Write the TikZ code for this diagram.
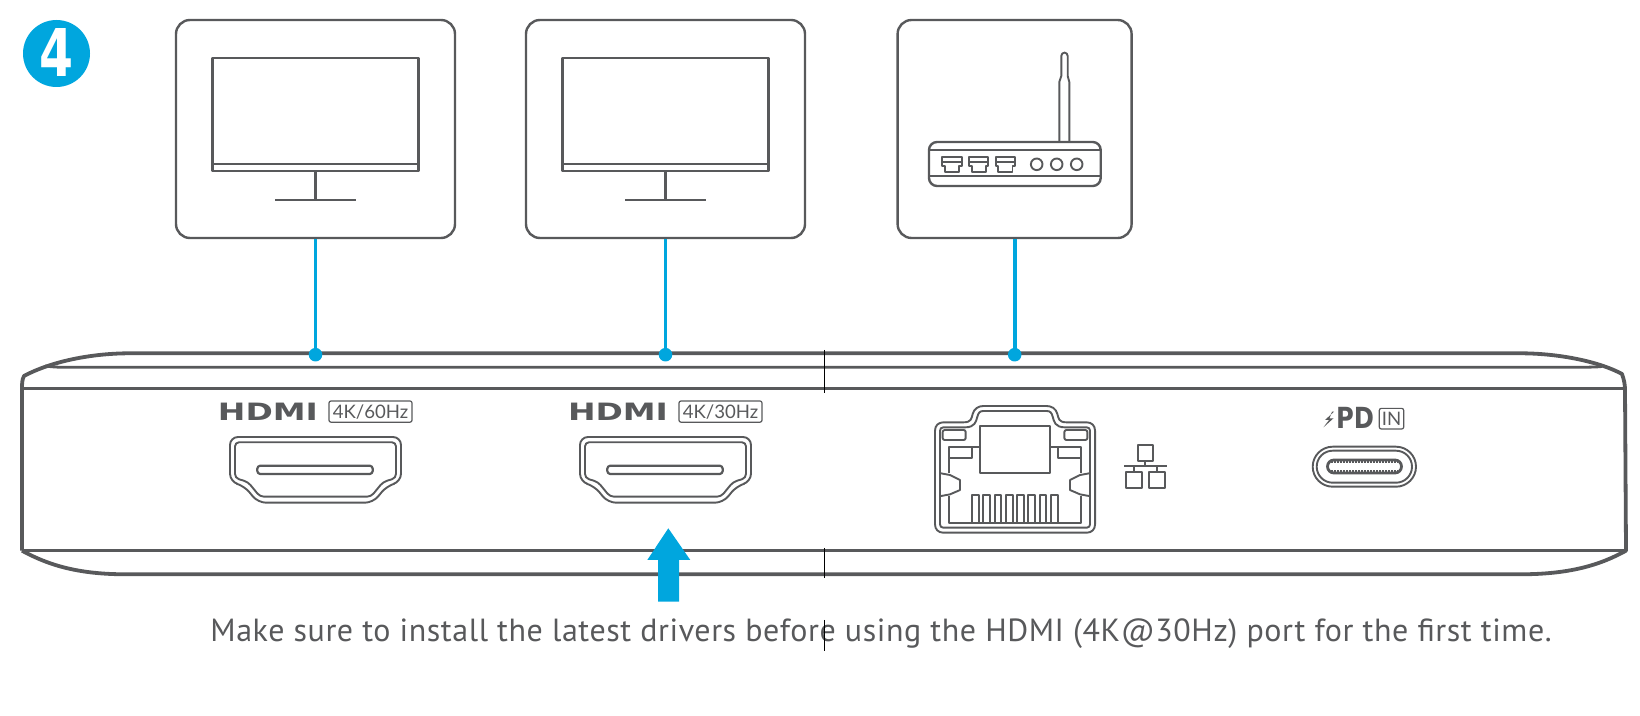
\documentclass[tikz,border=0pt]{standalone}
\usepackage{fontspec}
\setmainfont{PT Sans}
\newfontfamily\logofont{DejaVu Sans}
\newfontfamily\labfont{Lato}
\definecolor{ink}{HTML}{58595B}
\definecolor{cyanb}{HTML}{00A6DE}
\tikzset{
  px/.style={x=0.5pt,y=-0.5pt},
  thick line/.style={draw=ink,line width=1.4pt,line join=round},
  med line/.style={draw=ink,line width=1.2pt,line join=round},
  thin line/.style={draw=ink,line width=.95pt,line join=round},
  link/.style={draw=cyanb,line width=1.8pt},
  crease/.style={draw=black,line width=.45pt},
  dotnode/.style={circle,fill=cyanb,inner sep=0pt,minimum size=6.8pt},
  panel/.style={draw=ink,line width=1.2pt,rounded corners=7pt,inner sep=0pt,minimum height=109pt},
  logo/.style={inner sep=0pt,text=ink,font=\logofont\bfseries},
  speed/.style={draw=ink,line width=.6pt,rounded corners=1pt,inner sep=0pt,text=ink,font=\labfont\fontsize{9.3}{10}\selectfont,minimum width=41.5pt,minimum height=10.6pt},
}
\newcommand{\monitor}[1]{%
  \begin{scope}[shift={(#1,0)}]
    \draw[thick line] (212.5,58) rectangle (418.5,171);
    \draw[med line] (212,164) -- (419,164);
    \draw[thin line,line width=1.1pt] (315.5,171) -- (315.5,200);
    \draw[med line] (275,200) -- (356,200);
  \end{scope}}
\newcommand{\hdmiport}[1]{%
  \begin{scope}[shift={(#1,0)}]
    \draw[thin line,rounded corners=4pt] (230,437) -- (401,437) -- (401,481.7) -- (386.7,486) -- (373,502.7) -- (258,502.7) -- (244.3,486) -- (230,481.7) -- cycle;
    \draw[thin line,rounded corners=2pt] (235,442.3) -- (396,442.3) -- (396,478) -- (383,482) -- (371,496.7) -- (260,496.7) -- (248,482) -- (235,478) -- cycle;
    \draw[thin line,rounded corners=1.5pt,line width=1.1pt] (257.3,465.7) rectangle (372.7,474);
  \end{scope}}
\newcommand{\hdmilogo}[3]{%
  \node[logo,anchor=center] at (268+#1,411.8) {\resizebox{50pt}{8.7pt}{HDMI}};
  \node[speed] (#2) at (370.5+#1,411.6) {#3};}
\newcommand{\rjport}[1]{%
  \draw[thin line] (#1,156.7) -- ++(19.4,0) -- ++(0,9) -- ++(-2.6,0) -- ++(0,6) -- ++(-14.2,0) -- ++(0,-6) -- ++(-2.6,0) -- cycle;
  \draw[thin line] (#1,162.3) -- ++(19.4,0);}
\begin{document}
\begin{tikzpicture}[px]
\useasboundingbox (0,0) rectangle (1640,716);
% badge
\node[circle,fill=cyanb,inner sep=0pt,minimum size=33.5pt] (badge) at (56.5,53.5) {};
\node[inner sep=0pt,text=white,font=\logofont\bfseries] (four) at (56.3,53) {\resizebox{17pt}{24pt}{4}};
% panels
\node[panel,minimum width=139.5pt] (p1) at (315.5,129) {};
\node[panel,minimum width=139.5pt] (p2) at (665.5,129) {};
\node[panel,minimum width=117pt] (p3) at (1014.6,129) {};
\monitor{0}
\monitor{350}
% router
\draw[thin line] (1059.3,142) -- (1059.3,82) -- (1061.3,76) -- (1061.3,56) arc[start angle=180,end angle=360,x radius=3.2,y radius=3.4] -- (1067.7,76) -- (1069.3,82) -- (1069.3,142);
\draw[med line,rounded corners=4pt] (929,142) rectangle (1100.7,186);
\draw[med line] (929,150) -- (1100.7,150);
\draw[med line] (929,176) -- (1100.7,176);
\rjport{942.3}
\rjport{969}
\rjport{995.7}
\foreach \cx in {1036.7,1056.7,1076.7} \draw[thin line] (\cx,164.3) circle[radius=5.8];
% device body
\draw[thick line,line width=1.9pt] (22,550.7) -- (22,390) .. controls (22,383) and (22,380) .. (24,376) .. controls (50,362) and (90,353.3) .. (130,353.3) -- (1520,353.3) .. controls (1560,353.3) and (1600,362) .. (1622,374) .. controls (1624,380) and (1625,384) .. (1625,390) -- (1626,550.7) .. controls (1600,565) and (1570,574.3) .. (1520,574.3) -- (126,574.3) .. controls (80,574.3) and (50,566) .. (22,550.7);
\draw[thick line] (45,366) .. controls (55,367.3) and (60,367.3) .. (70,367.3) -- (1570,367.3) .. controls (1590,367.3) and (1598,367) .. (1602,366.5);
\draw[thick line,line width=1.3pt] (22,388.7) -- (1625,388.7);
\draw[thick line,line width=1.3pt] (22,550.7) -- (1626,550.7);
% connectors
\coordinate (d1) at (315.5,354.7);
\coordinate (d2) at (665.5,354.7);
\coordinate (d3) at (1014.7,354.7);
\node[dotnode] (n1) at (d1) {};
\node[dotnode] (n2) at (d2) {};
\node[dotnode] (n3) at (d3) {};
\draw[link] (p1.south) -- (n1.center);
\draw[link] (p2.south) -- (n2.center);
\draw[link] (p3.south -| n3) -- (n3.center);
% HDMI
\hdmilogo{0}{s1}{4K/60Hz}
\hdmilogo{350}{s2}{4K/30Hz}
\hdmiport{0}
\hdmiport{350}
% RJ45
\begin{scope}[shift={(900,390)},x=0.1667pt,y=-0.1667pt]
  \draw[thin line] (130,97) -- (190,97) .. controls (215,97) and (214,85) .. (218,72) .. controls (222,56) and (235,48) .. (250,48) -- (440,48) .. controls (455,48) and (468,56) .. (472,72) .. controls (476,85) and (475,97) .. (500,97) -- (560,97) .. controls (575,97) and (585,107) .. (585,122) -- (585,403) .. controls (585,418) and (575,428) .. (560,428) -- (130,428) .. controls (115,428) and (105,418) .. (105,403) -- (105,122) .. controls (105,107) and (115,97) .. (130,97) -- cycle;
  \draw[thin line] (130,112) -- (195,112) .. controls (225,112) and (228,95) .. (232,80) .. controls (235,68) and (240,63) .. (250,63) -- (440,63) .. controls (450,63) and (455,68) .. (458,80) .. controls (462,95) and (465,112) .. (495,112) -- (560,112) .. controls (566,112) and (570,116) .. (570,122) -- (570,403) .. controls (570,409) and (566,413) .. (560,413) -- (130,413) .. controls (124,413) and (120,409) .. (120,403) -- (120,122) .. controls (120,116) and (124,112) .. (130,112) -- cycle;
  \draw[thin line] (240,107) rectangle (450,250);
  \draw[thin line,rounded corners=1pt] (128,120) rectangle (197,150);
  \draw[thin line,rounded corners=1pt] (493,120) rectangle (562,150);
  \draw[thin line] (240,170) -- (147,170) -- (147,250);
  \draw[thin line] (147,205) -- (217,205) -- (217,170);
  \draw[thin line] (450,170) -- (543,170) -- (543,250);
  \draw[thin line] (543,205) -- (473,205) -- (473,170);
  \draw[thin line] (123,250) -- (150,255) -- (180,270) -- (180,300) -- (150,313) -- (123,318);
  \draw[thin line] (567,250) -- (540,255) -- (510,270) -- (510,300) -- (540,313) -- (567,318);
  \draw[thin line] (147,318) -- (147,398) -- (543,398) -- (543,318);
  \foreach \px in {217,250,284,318,352,385,419,453}
    \draw[thin line] (\px,398) -- (\px,315) -- ++(20,0) -- ++(0,83);
  % network icon
  \draw[thin line] (713,165) rectangle (760,212);
  \draw[thin line] (736,212) -- (736,229);
  \draw[thin line] (672,229) -- (800,229);
  \draw[thin line] (702,229) -- (702,247);
  \draw[thin line] (770,229) -- (770,247);
  \draw[thin line] (678,247) rectangle (725,295);
  \draw[thin line] (747,247) rectangle (794,295);
\end{scope}
% PD
\fill[ink] (1334,411.7) -- (1325,420) -- (1329,420) -- (1323.5,427.3) -- (1333.5,418.3) -- (1329.5,418.3) -- (1332,411.7) -- cycle;
\node[logo,anchor=center] (pd) at (1355,418.4) {\resizebox{19pt}{10.6pt}{PD}};
\node[speed,minimum width=12.2pt,minimum height=10.3pt] (in) at (1391.5,418.7) {IN};
\draw[thin line] (1332.7,446.7) -- (1396,446.7) arc[start angle=-90,end angle=90,radius=20] -- (1332.7,486.7) arc[start angle=90,end angle=270,radius=20] -- cycle;
\draw[thin line] (1332.7,450.7) -- (1396,450.7) arc[start angle=-90,end angle=90,radius=16] -- (1332.7,482.7) arc[start angle=90,end angle=270,radius=16] -- cycle;
\draw[thick line] (1334,460) -- (1395,460) arc[start angle=-90,end angle=90,radius=6.5] -- (1334,473) arc[start angle=90,end angle=270,radius=6.5] -- cycle;
\draw[ink,line width=1pt,dash pattern=on 1pt off .5pt] (1331,461.8) -- (1398,461.8);
\draw[ink,line width=1pt,dash pattern=on 1pt off .5pt] (1331,471.2) -- (1398,471.2);
% arrow
\fill[cyanb] (668.3,528.3) -- (690.3,560) -- (679,560) -- (679,601.7) -- (658,601.7) -- (658,560) -- (647.3,560) -- cycle;
% text
\node[anchor=base west,inner sep=0pt,text=ink,font=\fontsize{16}{18}\selectfont\addfontfeatures{LetterSpace=1.8}] (note) at (210,641) {Make sure to install the latest drivers before using the HDMI (4K@30Hz) port for the first time.};
% crease marks
\draw[crease] (824.3,350) -- (824.3,393);
\draw[crease] (824.3,548) -- (824.3,578);
\draw[crease] (824.3,620) -- (824.3,651);
\end{tikzpicture}
\end{document}
